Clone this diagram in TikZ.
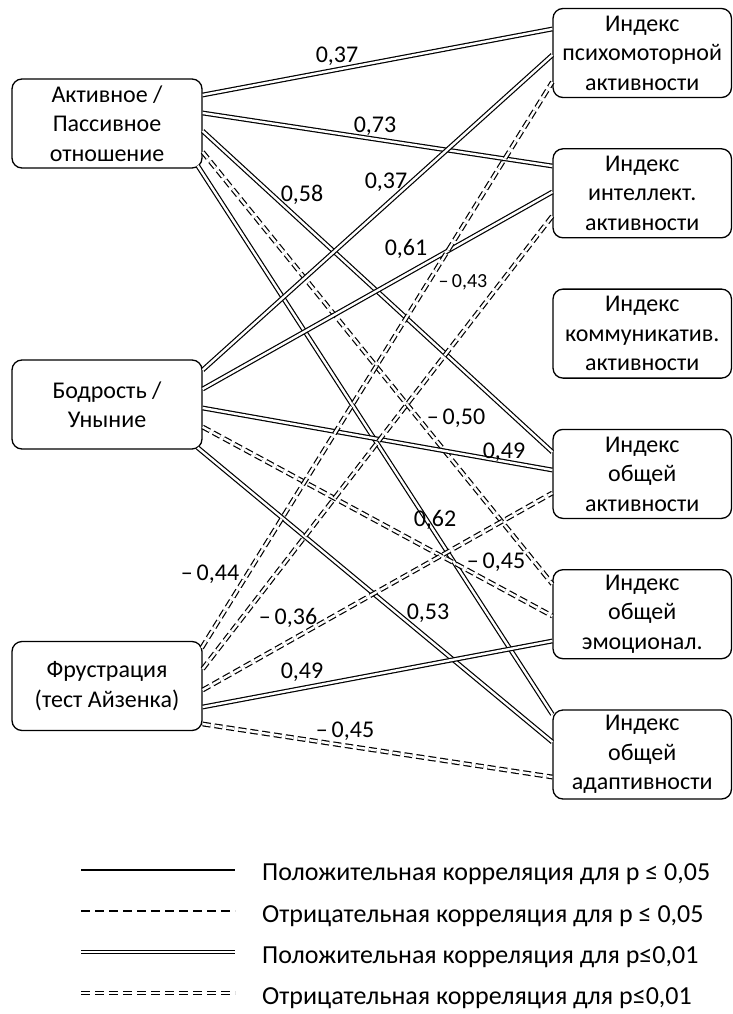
\documentclass[tikz,border=0pt]{standalone}
\usepackage{fontspec}
\setmainfont{Carlito}
\usetikzlibrary{calc}
\begin{document}
\begin{tikzpicture}[x=1pt,y=-1pt,
  box/.style={draw, line width=1.3pt, rounded corners=10pt, align=center,
    font=\fontsize{24}{29.5}\selectfont, inner sep=0pt},
  lbox/.style={box, minimum width=190pt, minimum height=89pt},
  rbox/.style={box, minimum width=178.5pt, minimum height=89pt},
  posline/.style={double, line width=1.2pt, double distance=2.4pt},
  negline/.style={posline, dash pattern=on 8pt off 4pt},
  lab/.style={font=\fontsize{24}{28}\selectfont, inner sep=0pt},
  slab/.style={font=\fontsize{20}{24}\selectfont, inner sep=0pt},
  legtext/.style={anchor=base west, font=\fontsize{26}{30}\selectfont, inner sep=0pt},
  legsolid/.style={line width=1.3pt},
  legdash/.style={line width=1.3pt, dash pattern=on 9pt off 5pt},
  legdouble/.style={double, line width=1.2pt, double distance=2.4pt},
  legddash/.style={legdouble, dash pattern=on 9pt off 5pt}
]
\useasboundingbox (0,0) rectangle (733,1014);

% left boxes
\node[lbox] (A) at (107,123.5) {Активное /\\Пассивное\\отношение};
\node[lbox] (B) at (107,404.5) {Бодрость /\\Уныние};
\node[lbox] (F) at (107,686) {Фрустрация\\(тест Айзенка)};

% right boxes
\node[rbox] (R1) at (642.25,53) {Индекс\\психомоторной\\активности};
\node[rbox] (R2) at (642.25,193.3) {Индекс\\интеллект.\\активности};
\node[rbox] (R3) at (642.25,333.6) {Индекс\\коммуникатив.\\активности};
\node[rbox] (R4) at (642.25,473.9) {Индекс\\общей\\активности};
\node[rbox] (R5) at (642.25,614.2) {Индекс\\общей\\эмоционал.};
\node[rbox] (R6) at (642.25,754.5) {Индекс\\общей\\адаптивности};

% from A
\draw[posline] ($(A.east)+(0,-28.5)$) -- ($(R1.west)+(0,-24)$);
\draw[posline] ($(A.east)+(0,-10.5)$) -- ($(R2.west)+(0,-27.3)$);
\draw[posline] ($(A.east)+(0,7.5)$) -- ($(R4.west)+(0,-21.9)$);
\draw[posline] ($(A.south east)+(-5,-3)$) -- ($(R6.north west)+(0,5)$);
\draw[negline] ($(A.east)+(0,28.5)$) -- ($(R5.west)+(0,-30.2)$);

% from B
\draw[posline] ($(B.east)+(0,-34.5)$) -- ($(R1.west)+(0,2)$);
\draw[posline] ($(B.east)+(0,-15.5)$) -- ($(R2.west)+(0,-1.3)$);
\draw[posline] ($(B.east)+(0,3.5)$) -- ($(R4.west)+(0,-3.9)$);
\draw[negline] ($(B.east)+(0,22.5)$) -- ($(R5.west)+(0,1.8)$);
\draw[posline] ($(B.south east)+(-5,-2)$) -- ($(R6.west)+(0,-12.5)$);

% from F
\draw[negline] ($(F.east)+(-1,-38)$) -- ($(R1.west)+(0,29)$);
\draw[negline] ($(F.east)+(0,-17)$) -- ($(R2.west)+(0,22.7)$);
\draw[negline] ($(F.east)+(0,4)$) -- ($(R4.west)+(0,19.1)$);
\draw[posline] ($(F.east)+(0,21)$) -- ($(R5.west)+(0,26.8)$);
\draw[negline] ($(F.east)+(0,38)$) -- ($(R6.west)+(0,22.5)$);

% labels
\node[lab] (l1) at (337,56) {0,37};
\node[lab] (l2) at (375,126) {0,73};
\node[lab] (l3) at (302,195) {0,58};
\node[lab] (l4) at (386,182) {0,37};
\node[lab] (l5) at (406,249) {0,61};
\node[slab] (l6) at (463,282) {–\,0,43};
\node[lab] (l7) at (456,418) {–\,0,50};
\node[lab] (l8) at (504,452) {0,49};
\node[lab] (l9) at (435,520) {0,62};
\node[lab] (l10) at (496,562) {–\,0,45};
\node[lab] (l11) at (428,613) {0,53};
\node[lab] (l12) at (210,574) {–\,0,44};
\node[lab] (l13) at (288,618) {–\,0,36};
\node[lab] (l14) at (302,672) {0,49};
\node[lab] (l15) at (345,731) {–\,0,45};

% legend
\draw[legsolid] (81,870) -- (235,870);
\draw[legdash] (81,911) -- (235,911);
\draw[legdouble] (81,952) -- (235,952);
\draw[legddash] (81,993) -- (235,993);
\node[legtext] (t1) at (262,880) {Положительная корреляция для p ≤ 0,05};
\node[legtext] (t2) at (262,922) {Отрицательная корреляция для p ≤ 0,05};
\node[legtext] (t3) at (262,963) {Положительная корреляция для p≤0,01};
\node[legtext] (t4) at (262,1004) {Отрицательная корреляция для p≤0,01};
\end{tikzpicture}
\end{document}
